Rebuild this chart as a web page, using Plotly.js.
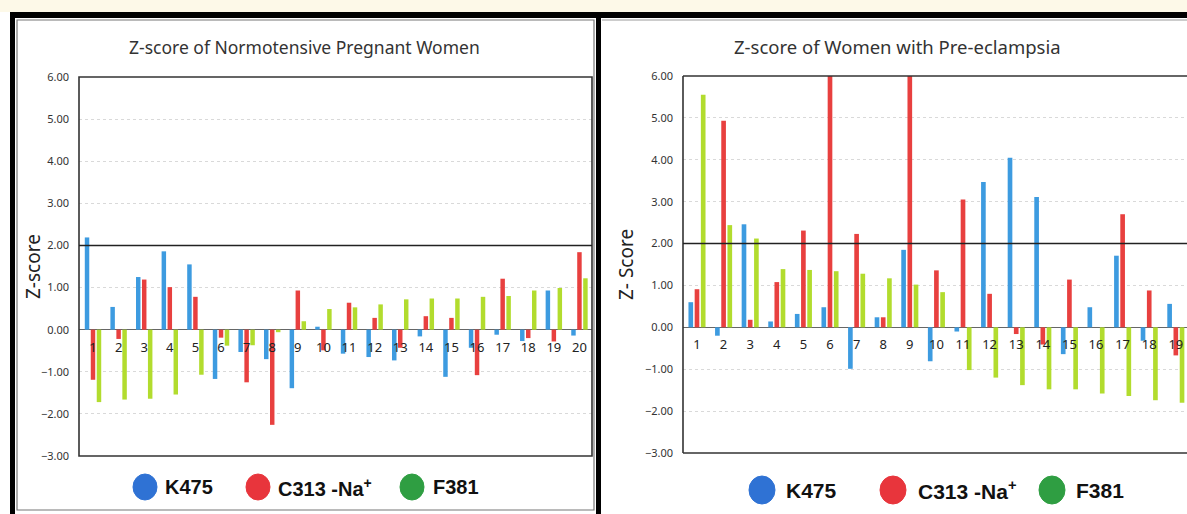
<!DOCTYPE html>
<html>
<head>
<meta charset="utf-8">
<script src="https://cdn.plot.ly/plotly-3.0.1.min.js"></script>
<style>
html,body{margin:0;padding:0;background:#fff;}
#chart{width:1187px;height:514px;}
</style>
</head>
<body>
<div id="chart"></div>
<script>
// ---------- data ----------
const seriesNames = ['K475', 'C313 -Na<sup>+</sup>', 'F381'];

const leftTitle = 'Z-score of Normotensive Pregnant Women';
const leftYTitle = 'Z-score';
const leftCategories = ['1','2','3','4','5','6','7','8','9','10','11','12','13','14','15','16','17','18','19','20'];
const leftK475 = [2.19, 0.54, 1.25, 1.86, 1.55, -1.17, -0.53, -0.70, -1.39, 0.07, -0.57, -0.65, -0.73, -0.16, -1.12, -0.43, -0.12, -0.27, 0.93, -0.14];
const leftC313 = [-1.19, -0.22, 1.19, 1.01, 0.78, -0.19, -1.25, -2.26, 0.93, -0.49, 0.64, 0.28, -0.43, 0.32, 0.28, -1.08, 1.21, -0.20, -0.28, 1.84];
const leftF381 = [-1.72, -1.66, -1.64, -1.54, -1.07, -0.38, -0.37, -0.06, 0.20, 0.49, 0.53, 0.60, 0.72, 0.74, 0.74, 0.78, 0.80, 0.93, 0.99, 1.22];

const rightTitle = 'Z-score of Women with Pre-eclampsia';
const rightYTitle = 'Z- Score';
const rightCategories = ['1','2','3','4','5','6','7','8','9','10','11','12','13','14','15','16','17','18','19'];
const rightK475 = [0.60, -0.20, 2.46, 0.14, 0.32, 0.48, -0.99, 0.24, 1.85, -0.81, -0.10, 3.47, 4.05, 3.11, -0.64, 0.48, 1.71, -0.32, 0.56];
const rightC313 = [0.91, 4.93, 0.18, 1.08, 2.31, 6.2, 2.23, 0.24, 6.2, 1.36, 3.05, 0.80, -0.16, -0.41, 1.14, 0.0, 2.70, 0.88, -0.67];
const rightF381 = [5.55, 2.44, 2.12, 1.39, 1.37, 1.34, 1.28, 1.17, 1.02, 0.84, -1.02, -1.20, -1.38, -1.48, -1.48, -1.58, -1.64, -1.74, -1.80];

const yTickVals = [-3, -2, -1, 0, 1, 2, 3, 4, 5, 6];

// ---------- styling ----------
const W = 1187, H = 514;
const px = x => x / W;
const py = y => 1 - y / H;

const barColors = ['#3d9be0', '#e8403f', '#b2dc2e'];
const legendColors = ['#2f72d4', '#e8353c', '#2f9e42'];
const baseFamily = 'Noto Sans, DejaVu Sans, sans-serif';
const tickFont = {family: baseFamily, size: 11, color: '#333'};
const catFont = {family: baseFamily, size: 13, color: '#222'};

const L = {x0: 79, x1: 592, yTop: 77, yBot: 456};
const R = {x0: 683, x1: 1187, yTop: 76, yBot: 453};

function zeroPos(p) { // paper position of y=0 for range [-3,6]
  const d0 = py(p.yBot), d1 = py(p.yTop);
  return d0 + (3 / 9) * (d1 - d0);
}

const traces = [];
[[leftK475, leftC313, leftF381], [rightK475, rightC313, rightF381]].forEach((set, k) => {
  const cats = k === 0 ? leftCategories : rightCategories;
  set.forEach((vals, i) => {
    traces.push({
      type: 'bar', x: cats, y: vals, name: seriesNames[i],
      marker: {color: barColors[i]},
      xaxis: k === 0 ? 'x' : 'x2', yaxis: k === 0 ? 'y' : 'y2',
      showlegend: false, hoverinfo: 'x+y+name'
    });
  });
});

function yAxis(p, anchor) {
  return {
    domain: [py(p.yBot), py(p.yTop)], anchor: anchor, range: [-3, 6],
    tickvals: yTickVals, tickformat: '.2f', tickfont: tickFont,
    showgrid: true, gridcolor: '#d9d9d9', griddash: 'dot', gridwidth: 1,
    zeroline: true, zerolinecolor: '#666', zerolinewidth: 1.5,
    showline: false, ticks: '', ticklabelstandoff: 9
  };
}

function xAxis(p, range) {
  return {
    domain: [px(p.x0), px(p.x1)], type: 'category', range: range,
    anchor: 'free', position: zeroPos(p),
    showgrid: false, zeroline: false, showline: false, ticks: '',
    tickfont: catFont, ticklabelstandoff: 8
  };
}

const frameLine = {color: '#333', width: 1.6};
const shapes = [
  {type: 'rect', xref: 'paper', yref: 'paper', x0: 0, x1: 1, y0: py(12), y1: 1, fillcolor: '#fdf9e8', line: {width: 0}, layer: 'below'},
  {type: 'rect', xref: 'paper', yref: 'paper', x0: px(10), x1: 1, y0: py(18), y1: py(12), fillcolor: '#000', line: {width: 0}},
  {type: 'rect', xref: 'paper', yref: 'paper', x0: px(10), x1: px(15), y0: 0, y1: py(12), fillcolor: '#000', line: {width: 0}},
  {type: 'rect', xref: 'paper', yref: 'paper', x0: px(596), x1: px(601), y0: 0, y1: py(12), fillcolor: '#000', line: {width: 0}},
  {type: 'rect', xref: 'paper', yref: 'paper', x0: px(17), x1: px(594), y0: py(510), y1: py(20), line: {color: '#777', width: 1.2}},
  {type: 'line', xref: 'paper', yref: 'paper', x0: px(602), x1: 1, y0: py(20), y1: py(20), line: {color: '#999', width: 1}},
  {type: 'rect', xref: 'x domain', yref: 'y domain', x0: 0, x1: 1, y0: 0, y1: 1, line: frameLine},
  {type: 'line', xref: 'x domain', yref: 'y', x0: 0, x1: 1, y0: 2, y1: 2, line: {color: '#222', width: 1.4}},
  {type: 'line', xref: 'x2 domain', yref: 'y2 domain', x0: 0, x1: 1, y0: 1, y1: 1, line: frameLine},
  {type: 'line', xref: 'x2 domain', yref: 'y2 domain', x0: 0, x1: 1, y0: 0, y1: 0, line: frameLine},
  {type: 'line', xref: 'x2 domain', yref: 'y2 domain', x0: 0, x1: 0, y0: 0, y1: 1, line: frameLine},
  {type: 'line', xref: 'x2 domain', yref: 'y2', x0: 0, x1: 1, y0: 2, y1: 2, line: {color: '#222', width: 1.4}}
];

const annotations = [
  {text: leftTitle, xref: 'paper', yref: 'paper', x: px(305), y: py(47), showarrow: false, xanchor: 'center', yanchor: 'middle',
   font: {family: baseFamily, size: 17.5, color: '#333'}},
  {text: rightTitle, xref: 'paper', yref: 'paper', x: px(897), y: py(46), showarrow: false, xanchor: 'center', yanchor: 'middle',
   font: {family: baseFamily, size: 18.5, color: '#333'}},
  {text: leftYTitle, xref: 'paper', yref: 'paper', x: px(33), y: py(267), showarrow: false, textangle: -90, xanchor: 'center', yanchor: 'middle',
   font: {family: baseFamily, size: 19, color: '#222'}},
  {text: rightYTitle, xref: 'paper', yref: 'paper', x: px(626), y: py(265), showarrow: false, textangle: -90, xanchor: 'center', yanchor: 'middle',
   font: {family: baseFamily, size: 19, color: '#222'}}
];

// legends (circle + label)
const legendSets = [
  {cy: 487, r: 12, size: 20, circles: [145, 258, 412], labels: [163, 276, 431]},
  {cy: 490, r: 13, size: 21, circles: [762, 893, 1052], labels: [784, 916, 1074]}
];
legendSets.forEach(s => {
  s.circles.forEach((cx, i) => {
    shapes.push({type: 'circle', xref: 'paper', yref: 'paper', x0: px(cx - s.r), x1: px(cx + s.r), y0: py(s.cy + s.r + 1), y1: py(s.cy - s.r - 1),
      fillcolor: legendColors[i], line: {color: legendColors[i], width: 1}});
    annotations.push({text: '<b>' + seriesNames[i] + '</b>', xref: 'paper', yref: 'paper', x: px(s.labels[i]), y: py(s.cy),
      xanchor: 'left', yanchor: 'middle', showarrow: false,
      font: {family: 'Liberation Sans, Arial, sans-serif', size: s.size, color: '#111'}});
  });
});

const layout = {
  width: W, height: H, margin: {l: 0, r: 0, t: 0, b: 0},
  paper_bgcolor: '#fff', plot_bgcolor: 'rgba(0,0,0,0)',
  barmode: 'group', bargap: 0.3, bargroupgap: 0.25,
  showlegend: false,
  xaxis: xAxis(L, [-0.547, 19.49]),
  yaxis: yAxis(L, 'x'),
  xaxis2: xAxis(R, [-0.526, 18.42]),
  yaxis2: yAxis(R, 'x2'),
  shapes: shapes, annotations: annotations
};

Plotly.newPlot('chart', traces, layout, {displayModeBar: false, staticPlot: true});
</script>
</body>
</html>
